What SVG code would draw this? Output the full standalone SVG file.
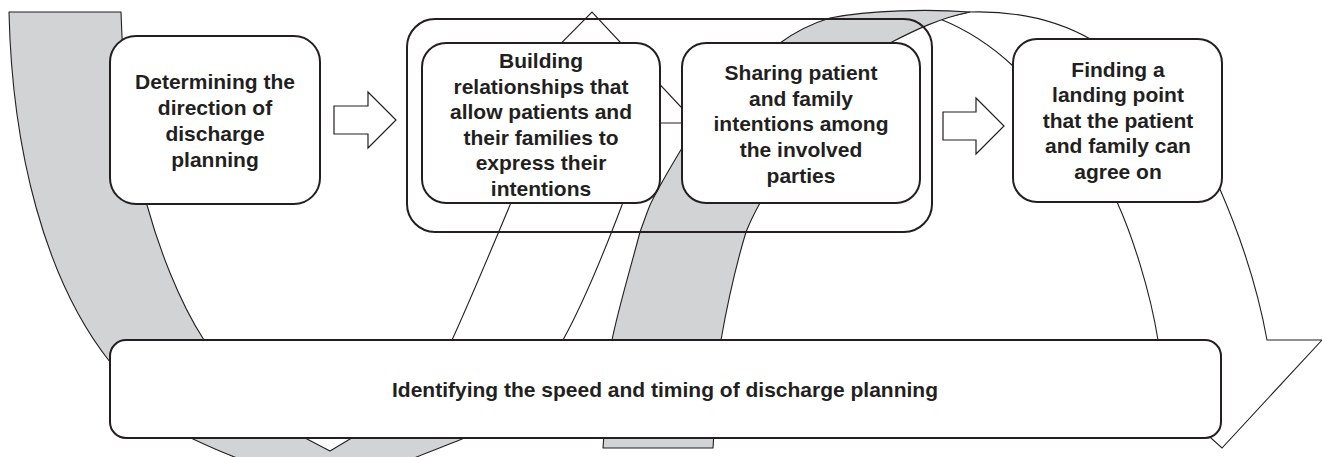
<svg xmlns="http://www.w3.org/2000/svg" width="1322" height="457" viewBox="0 0 1322 457">
<style>
.grey{fill:#d1d3d4;stroke:#231f20;stroke-width:1.1;stroke-linejoin:round}
.white{fill:#ffffff;stroke:#231f20;stroke-width:1.1;stroke-linejoin:miter}
.box{fill:#ffffff;stroke:#231f20;stroke-width:2}
.frame{fill:none;stroke:#231f20;stroke-width:2}
.blk{fill:#ffffff;stroke:#231f20;stroke-width:1.2}
text{font-family:"Liberation Sans",Arial,sans-serif;font-weight:bold;font-size:21px;fill:#231f20;text-anchor:middle}
</style>
<g id="connectors">
  <path id="left-band" class="grey" d="M9,12 L121,12 C123,70 128,150 147,205 C158,245 178,300 204,340 C235,385 270,418 307,439 L330,451 L350,439 C370,425 385,415 400,405 L515,397 C500,415 480,430 462,439 C440,448 420,455 405,462 L248,462 C228,455 210,447 193,439 C160,418 132,392 110,362 C45,280 12,150 9,12 Z"/>
  <path id="left-arrow" class="white" d="M400,405 C425,385 442,362 452,340 C468,305 487,260 510,205 C520,170 526,145 530,123 L482,123 L592,12 L696,123 L642,123 C637,150 630,180 622,205 C605,250 585,300 563,340 C548,365 532,383 515,397 Z"/>
  <path id="right-arrow" class="white" d="M940,19 Q980,35 1013,66 C1060,100 1100,160 1117,202 C1132,235 1150,290 1158,340 L1102,340 L1222,448 L1322,340 L1267,340 C1258,290 1240,235 1219,187 C1215,120 1170,60 1092,40 Q1040,10 970,12 Z"/>
  <path id="middle-band" class="grey" d="M603,448 L713,448 L716,400 C718,380 719,360 721,340 C728,300 737,262 746,232 C750,222 755,212 760,203 C800,120 850,65 890,43 C915,30 940,18 970,12 C930,9 870,10 830,18 C810,24 795,32 780,43 C740,75 705,110 682,148 C670,168 658,188 650,205 C646,215 643,224 640,232 C630,270 618,310 612,340 C608,380 605,420 603,448 Z"/>
  <path id="arrow-1" class="blk" d="M334,106 L368,106 L368,92 L396,120 L368,148 L368,134 L334,134 Z"/>
  <path id="arrow-2" class="blk" d="M943,112 L976,112 L976,98 L1004,126 L976,154 L976,140 L943,140 Z"/>
</g>
<g id="node-container">
  <rect class="frame" x="407" y="19" width="525" height="213" rx="28"/>
</g>
<g id="node-determining">
  <rect class="box" x="110" y="36" width="210" height="168" rx="26"/>
  <text x="215" y="89">Determining the</text>
  <text x="215" y="115">direction of</text>
  <text x="215" y="141">discharge</text>
  <text x="215" y="167">planning</text>
</g>
<g id="node-building">
  <rect class="box" x="422" y="43" width="238" height="160" rx="24"/>
  <text x="541" y="68">Building</text>
  <text x="541" y="94">relationships that</text>
  <text x="541" y="119">allow patients and</text>
  <text x="541" y="145">their families to</text>
  <text x="541" y="170">express their</text>
  <text x="541" y="196">intentions</text>
</g>
<g id="node-sharing">
  <rect class="box" x="682" y="43" width="238" height="160" rx="24"/>
  <text x="801" y="80">Sharing patient</text>
  <text x="801" y="106">and family</text>
  <text x="801" y="131">intentions among</text>
  <text x="801" y="157">the involved</text>
  <text x="801" y="183">parties</text>
</g>
<g id="node-finding">
  <rect class="box" x="1013" y="39" width="209" height="163" rx="24"/>
  <text x="1118" y="77">Finding a</text>
  <text x="1118" y="102">landing point</text>
  <text x="1118" y="128">that the patient</text>
  <text x="1118" y="153">and family can</text>
  <text x="1118" y="179">agree on</text>
</g>
<g id="node-identifying">
  <rect class="box" x="110" y="340" width="1111" height="98" rx="16"/>
  <text x="665" y="397">Identifying the speed and timing of discharge planning</text>
</g>
</svg>
